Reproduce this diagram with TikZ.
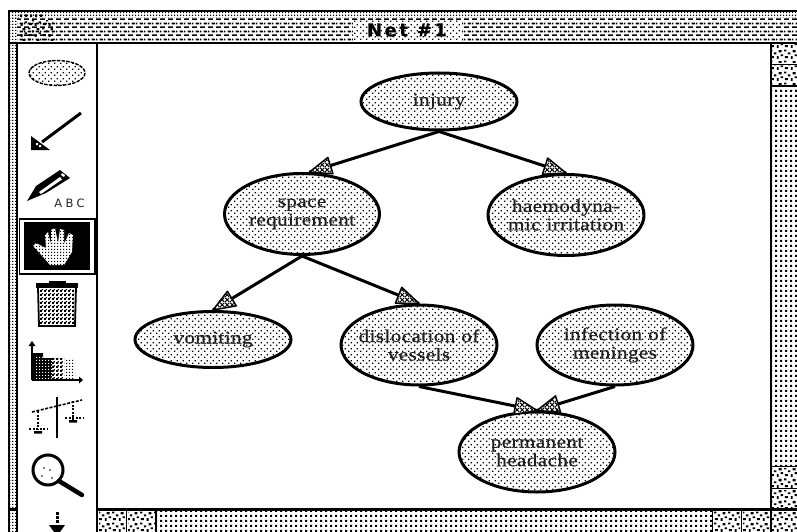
\documentclass[tikz,border=0pt]{standalone}
\usepackage{fontspec}
\usetikzlibrary{patterns,shapes.geometric,decorations.markings}
\newfontfamily\nodefont[LetterSpace=2,FakeStretch=1.18,FakeBold=0.5]{Liberation Serif}
\newfontfamily\titlefont[LetterSpace=14,FakeBold=0.6]{DejaVu Sans}
\newfontfamily\abcfont[LetterSpace=30]{DejaVu Sans}
\newcommand{\ctr}[1]{\makebox[\linewidth][c]{#1}}
\pgfdeclarepatternformonly{ndots}{\pgfqpoint{0pt}{0pt}}{\pgfqpoint{6pt}{6pt}}{\pgfqpoint{6pt}{6pt}}{
  \pgfpathrectangle{\pgfqpoint{0pt}{0pt}}{\pgfqpoint{1.5pt}{1.5pt}}
  \pgfpathrectangle{\pgfqpoint{3pt}{3pt}}{\pgfqpoint{1.5pt}{1.5pt}}
  \pgfusepath{fill}}
\pgfdeclarepatternformonly{bardash}{\pgfqpoint{0pt}{0pt}}{\pgfqpoint{8pt}{8pt}}{\pgfqpoint{8pt}{8pt}}{
  \pgfpathrectangle{\pgfqpoint{0pt}{0pt}}{\pgfqpoint{5.5pt}{1.8pt}}
  \pgfpathrectangle{\pgfqpoint{4pt}{4pt}}{\pgfqpoint{4pt}{1.8pt}}
  \pgfpathrectangle{\pgfqpoint{0pt}{4pt}}{\pgfqpoint{1.5pt}{1.8pt}}
  \pgfusepath{fill}}
\pgfdeclarepatternformonly{fine}{\pgfqpoint{0pt}{0pt}}{\pgfqpoint{3pt}{3pt}}{\pgfqpoint{3pt}{3pt}}{
  \pgfpathrectangle{\pgfqpoint{0pt}{0pt}}{\pgfqpoint{1.5pt}{1.5pt}}
  \pgfusepath{fill}}
\pgfdeclarepatternformonly{scroll}{\pgfqpoint{0pt}{0pt}}{\pgfqpoint{5pt}{5pt}}{\pgfqpoint{5pt}{5pt}}{
  \pgfpathrectangle{\pgfqpoint{0pt}{0pt}}{\pgfqpoint{2.6pt}{2.6pt}}
  \pgfusepath{fill}}
\pgfdeclarepatternformonly{blotch}{\pgfqpoint{0pt}{0pt}}{\pgfqpoint{14pt}{11pt}}{\pgfqpoint{14pt}{11pt}}{
  \pgfpathrectangle{\pgfqpoint{1pt}{1pt}}{\pgfqpoint{3pt}{2pt}}
  \pgfpathrectangle{\pgfqpoint{7pt}{0pt}}{\pgfqpoint{2pt}{3pt}}
  \pgfpathrectangle{\pgfqpoint{11pt}{3pt}}{\pgfqpoint{2.5pt}{2pt}}
  \pgfpathrectangle{\pgfqpoint{4pt}{5pt}}{\pgfqpoint{2.5pt}{2pt}}
  \pgfpathrectangle{\pgfqpoint{9pt}{7pt}}{\pgfqpoint{3pt}{2.5pt}}
  \pgfpathrectangle{\pgfqpoint{0pt}{8pt}}{\pgfqpoint{2.5pt}{2pt}}
  \pgfusepath{fill}}
\pgfdeclarepatternformonly{mesh}{\pgfqpoint{0pt}{0pt}}{\pgfqpoint{4pt}{4pt}}{\pgfqpoint{4pt}{4pt}}{
  \pgfpathrectangle{\pgfqpoint{0pt}{0pt}}{\pgfqpoint{2.4pt}{2.4pt}}
  \pgfpathrectangle{\pgfqpoint{2pt}{2pt}}{\pgfqpoint{1.4pt}{1.4pt}}
  \pgfusepath{fill}}
\pgfdeclarepatternformonly{hatchx}{\pgfqpoint{0pt}{0pt}}{\pgfqpoint{5pt}{5pt}}{\pgfqpoint{5pt}{5pt}}{
  \pgfsetlinewidth{1.1pt}
  \pgfpathmoveto{\pgfqpoint{0pt}{0pt}}\pgfpathlineto{\pgfqpoint{5pt}{5pt}}
  \pgfpathmoveto{\pgfqpoint{0pt}{5pt}}\pgfpathlineto{\pgfqpoint{5pt}{0pt}}
  \pgfusepath{stroke}}
\tikzset{
  netnode/.style={ellipse,draw=black,line width=3pt,pattern=ndots,inner sep=0pt,
    text width=100pt,text=black!88,align=center,font=\nodefont\fontsize{18}{18.5}\selectfont},
  nettip/.style={decoration={markings,mark=at position 1 with {
      \draw[line width=1.5pt,fill=white,line join=round] (0,0) -- (-22,8.5) -- (-22,-8.5) -- cycle;
      \fill[pattern=hatchx] (-2,0) -- (-21,7.5) -- (-21,-7.5) -- cycle;}},postaction={decorate}},
  netarrow/.style={line width=3pt,black,nettip},
  frameline/.style={line width=2.2pt,black},
  cell/.style={pattern=blotch},
}
\begin{document}
\begin{tikzpicture}[x=1pt,y=-1pt]
\useasboundingbox (0,0) rectangle (797,532);
\fill[white] (0,0) rectangle (797,532);
% --- window chrome
\fill[pattern=fine] (10,12) rectangle (797,18);
\fill[pattern=bardash] (17,19) rectangle (797,42);
\fill[pattern=scroll] (17,12.5) rectangle (45,16.5);
\fill[pattern=fine] (10,18) rectangle (17,532);
\fill[pattern=blotch] (20,21) rectangle (53,41);
\fill[white] (353,20) rectangle (462,41);
\fill[pattern=ndots] (353,20) rectangle (462,41);
\fill[pattern=scroll] (772,88) rectangle (797,466);
\fill[pattern=scroll] (157,511) rectangle (712,532);
\fill[cell] (772,45) rectangle (797,63);
\fill[cell] (772,66) rectangle (797,85);
\fill[cell] (772,468) rectangle (797,487);
\fill[cell] (772,490) rectangle (797,508);
\fill[cell] (772,512) rectangle (797,532);
\fill[cell] (99,511) rectangle (125,532);
\fill[cell] (128,511) rectangle (155,532);
\fill[cell] (714,511) rectangle (740,532);
\fill[cell] (743,511) rectangle (770,532);
\draw[frameline] (9,532) -- (9,11) -- (797,11);
\draw[frameline] (10,43) -- (797,43);
\draw[frameline] (17,43) -- (17,532);
\draw[frameline] (97,43) -- (97,532);
\draw[frameline] (771,43) -- (771,532);
\draw[frameline] (97,509.5) -- (797,509.5);
\draw[frameline] (9,509.5) -- (17,509.5);
\draw[line width=1.8pt] (771,64.5) -- (797,64.5) (771,86) -- (797,86) (771,466.5) -- (797,466.5) (771,488.5) -- (797,488.5);
\draw[line width=1.8pt] (126.5,510) -- (126.5,532) (156,510) -- (156,532) (712.5,510) -- (712.5,532) (741.5,510) -- (741.5,532);
\node[font=\titlefont\bfseries\fontsize{18}{18}\selectfont,inner sep=0pt] (title) at (407,30) {Net \#1};
% --- tool palette
\draw[black,line width=1.4pt,dash pattern=on 3.5pt off 1.2pt,pattern=ndots] (57,73) ellipse [x radius=28,y radius=12.5];
% arrow tool
\draw[line width=3pt] (81,113) -- (42,142);
\fill[black] (31,136) -- (50,150) -- (31,150) -- cycle;
\fill[white] (36,143) rectangle (38,145) (39,145) rectangle (41,147);
% pencil tool
\fill[black] (27,201) -- (36,186) -- (60,170) -- (70,178) -- (46,193) -- cycle;
\fill[white] (39,192) -- (60,177) -- (62,179.5) -- (41,194) -- cycle;
\fill[white] (62,173) -- (65,175) -- (64,177) -- (61,175) -- cycle;
\node[font=\abcfont\fontsize{11.5}{11.5}\selectfont,text=black!85,inner sep=0pt] (abc) at (69.5,203) {ABC};
% hand tool, selected
\draw[line width=1.8pt] (19.5,219) rectangle (95,274);
\fill[black] (24,222) rectangle (90,270);
\fill[white] (33,246) -- (36,243) -- (46,248) -- (45,235) -- (48,232) -- (51,244) -- (51,230) -- (55,228) -- (58,243) -- (60,229) -- (64,230) -- (64,244) -- (69,233) -- (73,235) -- (72,252) -- (64,265) -- (50,265) -- (44,258) -- cycle;
\fill[pattern=fine] (33,246) -- (36,243) -- (46,248) -- (45,235) -- (48,232) -- (51,244) -- (51,230) -- (55,228) -- (58,243) -- (60,229) -- (64,230) -- (64,244) -- (69,233) -- (73,235) -- (72,252) -- (64,265) -- (50,265) -- (44,258) -- cycle;
% trash
\draw[line width=1.8pt,fill=white] (38,287) -- (76,287) -- (75,326) -- (39,326) -- cycle;
\fill[pattern=mesh] (40,289) rectangle (74,325);
\fill[black] (36,283) rectangle (78,288);
\fill[black] (49,281) rectangle (66,284);
% chart
\fill[black] (33,353) -- (43,353) -- (43,358) -- (52,358) -- (52,380) -- (33,380) -- cycle;
\fill[white,pattern=fine,pattern color=white] (35,355) rectangle (52,379);
\fill[pattern=mesh] (52,358) rectangle (64,380);
\fill[pattern=fine] (64,358) rectangle (75,380);
\draw[line width=1.8pt] (32,380) -- (32,344) (32,380) -- (80,380);
\fill[black] (28.5,346) -- (32,341) -- (35.5,346) -- cycle (79,376.5) -- (83,380) -- (79,383.5) -- cycle;
% scales
\draw[line width=2.4pt] (57,397) -- (57,438);
\draw[line width=1.6pt,dash pattern=on 3pt off 1.5pt] (32,412) -- (82,400);
\draw[line width=1.5pt,dash pattern=on 2pt off 1.5pt] (38,411) -- (38,430) (73,401) -- (73,420);
\draw[line width=1.5pt,dash pattern=on 2pt off 1.5pt] (29,429) -- (47,429) (65,418) -- (83,418);
\fill[black] (34,431) rectangle (42,433.5) (69,420) rectangle (77,422.5);
% magnifier
\draw[line width=3pt,fill=white] (48,470) circle [radius=15];
\draw[line width=4.5pt,line cap=round] (59,481) -- (82,495);
\fill[black] (44,468) circle [radius=.8] (50,470) circle [radius=.8] (52,478) circle [radius=.8] (42,476) circle [radius=.8];
% bottom tool, cut off
\draw[line width=3pt,dash pattern=on 3pt off 1pt] (57,512) -- (57,524);
\fill[black] (49,525) -- (65,525) -- (60,532) -- (54,532) -- cycle;
% --- net
\node[netnode,minimum width=156,minimum height=57] (injury) at (439,101.5) {\ctr{injury}};
\node[netnode,minimum width=155,minimum height=81] (space) at (302,214) {\ctr{space}\\\ctr{requirement}};
\node[netnode,minimum width=156,minimum height=81] (haemo) at (566,215) {\ctr{haemodyna-}\\\ctr{mic irritation}};
\node[netnode,minimum width=156,minimum height=56] (vomit) at (213,339.5) {\ctr{vomiting}};
\node[netnode,minimum width=156,minimum height=80] (disloc) at (419,345) {\ctr{dislocation of}\\\ctr{vessels}};
\node[netnode,minimum width=156,minimum height=80] (infect) at (615,345) {\ctr{infection of}\\\ctr{meninges}};
\node[netnode,minimum width=156,minimum height=80] (perm) at (537,452) {\ctr{permanent}\\\ctr{headache}};
\draw[netarrow] (injury.south) -- (space.80);
\draw[netarrow] (injury.south) -- (haemo.north);
\draw[netarrow] (space.south) -- (vomit.north);
\draw[netarrow] (space.south) -- (disloc.north);
\draw[netarrow] (disloc.south) -- (perm.north);
\draw[netarrow] (infect.south) -- (perm.north);
\end{tikzpicture}
\end{document}
